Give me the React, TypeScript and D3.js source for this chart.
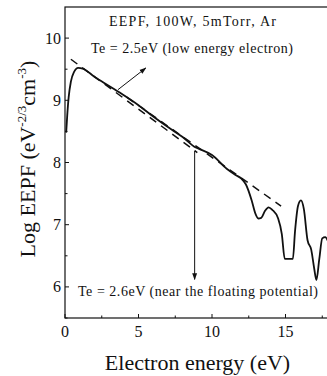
import React from "react";
import * as d3 from "d3";

// Measured EEPF curve (energy in eV, log EEPF)
const energy = [0.08, 0.15, 0.25, 0.4, 0.6, 0.9, 1.2, 2.0, 3.0, 4.0, 5.0, 6.0, 7.0, 8.0, 8.9, 9.2, 10.0, 11.0, 11.6, 12.0, 12.3, 12.7, 12.95, 13.15, 13.35, 13.6, 13.85, 14.1, 14.5, 14.75, 14.95, 15.5, 15.65, 15.85, 16.05, 16.25, 16.5, 16.75, 16.95, 17.1, 17.3, 17.5, 17.7, 17.95];
const logEepf = [8.48, 8.75, 9.05, 9.3, 9.45, 9.52, 9.51, 9.38, 9.23, 9.08, 8.92, 8.74, 8.57, 8.41, 8.24, 8.21, 8.12, 7.9, 7.8, 7.74, 7.65, 7.39, 7.18, 7.1, 7.11, 7.22, 7.28, 7.24, 7.1, 6.85, 6.45, 6.45, 6.9, 7.3, 7.39, 7.25, 6.75, 6.6, 6.3, 6.11, 6.45, 6.78, 6.8, 6.7];

// Linear fits (Te = 2.5 eV and Te = 2.6 eV)
const fitLowX = [0.4, 9.0];
const fitLowY = [9.66, 8.16];
const fitFloatX = [4.2, 14.7];
const fitFloatY = [9.05, 7.3];

const xMajor = [0, 5, 10, 15];
const xMinor = [2.5, 7.5, 12.5, 17.5];
const yMajor = [6, 7, 8, 9, 10];
const yMinor = [5.5, 6.5, 7.5, 8.5, 9.5];

const W = 327;
const H = 376;
const left = 65;
const top = 7;
const bottom = 318;
const font = "'Liberation Serif', 'Times New Roman', serif";

export default function App() {
  const x = d3.scaleLinear().domain([0, 18]).range([left, left + 18 * 14.7]);
  const y = d3.scaleLinear().domain([5.5, 10.5]).range([bottom, top]);
  const pts: [number, number][] = energy.map((e, i) => [e, logEepf[i]]);
  const line = d3
    .line<[number, number]>()
    .x((d) => x(d[0]))
    .y((d) => y(d[1]))
    .curve(d3.curveMonotoneX);
  const straight = d3
    .line<[number, number]>()
    .x((d) => x(d[0]))
    .y((d) => y(d[1]));
  const fitLow: [number, number][] = fitLowX.map((v, i) => [v, fitLowY[i]]);
  const fitFloat: [number, number][] = fitFloatX.map((v, i) => [v, fitFloatY[i]]);
  const right = x(18);

  return (
    <svg
      width={W}
      height={H}
      style={{ position: "absolute", left: 0, top: 0, background: "#fff" }}
      fontFamily={font}
    >
      <defs>
        <marker id="head" viewBox="0 0 10 10" refX="9" refY="5" markerWidth="7" markerHeight="7" orient="auto">
          <path d="M0,1.5 L10,5 L0,8.5 Z" fill="#111" />
        </marker>
      </defs>
      {/* frame */}
      <rect x={left} y={top} width={right - left} height={bottom - top} fill="none" stroke="#111" strokeWidth={1.2} />
      {/* x ticks */}
      {xMajor.map((t) => (
        <g key={"xm" + t}>
          <line x1={x(t)} x2={x(t)} y1={bottom} y2={bottom - 4} stroke="#111" />
          <text x={x(t)} y={337} fontSize={16} textAnchor="middle" fill="#111">{t}</text>
        </g>
      ))}
      {xMinor.map((t) => (
        <line key={"xn" + t} x1={x(t)} x2={x(t)} y1={bottom} y2={bottom - 2.5} stroke="#111" />
      ))}
      {/* y ticks */}
      {yMajor.map((t) => (
        <g key={"ym" + t}>
          <line x1={left} x2={left + 4} y1={y(t)} y2={y(t)} stroke="#111" />
          <text x={left - 4} y={y(t) + 5.5} fontSize={16} textAnchor="end" fill="#111">{t}</text>
        </g>
      ))}
      {yMinor.map((t) => (
        <line key={"yn" + t} x1={left} x2={left + 2.5} y1={y(t)} y2={y(t)} stroke="#111" />
      ))}
      {/* fits */}
      <path d={straight(fitLow) || ""} fill="none" stroke="#111" strokeWidth={1.5} strokeDasharray="8 6" />
      <path d={straight(fitFloat) || ""} fill="none" stroke="#111" strokeWidth={1.5} strokeDasharray="8 6" />
      {/* measured curve */}
      <path d={line(pts) || ""} fill="none" stroke="#111" strokeWidth={1.8} />
      {/* arrows */}
      <line x1={x(3.6)} y1={y(9.17)} x2={x(5.5)} y2={y(9.52)} stroke="#111" strokeWidth={1} markerEnd="url(#head)" />
      <line x1={x(8.82)} y1={y(8.19)} x2={x(8.82)} y2={y(6.12)} stroke="#111" strokeWidth={1} markerEnd="url(#head)" />
      {/* annotations */}
      <text x={109} y={26} fontSize={14} textLength={167} lengthAdjust="spacing" fill="#111">EEPF, 100W, 5mTorr,  Ar</text>
      <text x={91} y={53} fontSize={14} textLength={202} lengthAdjust="spacing" fill="#111">Te = 2.5eV (low energy electron)</text>
      <text x={78} y={296} fontSize={14} textLength={240} lengthAdjust="spacing" fill="#111">Te = 2.6eV (near the floating potential)</text>
      {/* axis titles */}
      <text x={197.5} y={370} fontSize={22} textAnchor="middle" fill="#111">Electron energy (eV)</text>
      <text transform={`translate(35,${159}) rotate(-90)`} fontSize={22} textAnchor="middle" fill="#111">
        Log EEPF (eV
        <tspan dy={-9} fontSize={13}>-2/3</tspan>
        <tspan dy={9}>cm</tspan>
        <tspan dy={-9} fontSize={13}>-3</tspan>
        <tspan dy={9}>)</tspan>
      </text>
    </svg>
  );
}
